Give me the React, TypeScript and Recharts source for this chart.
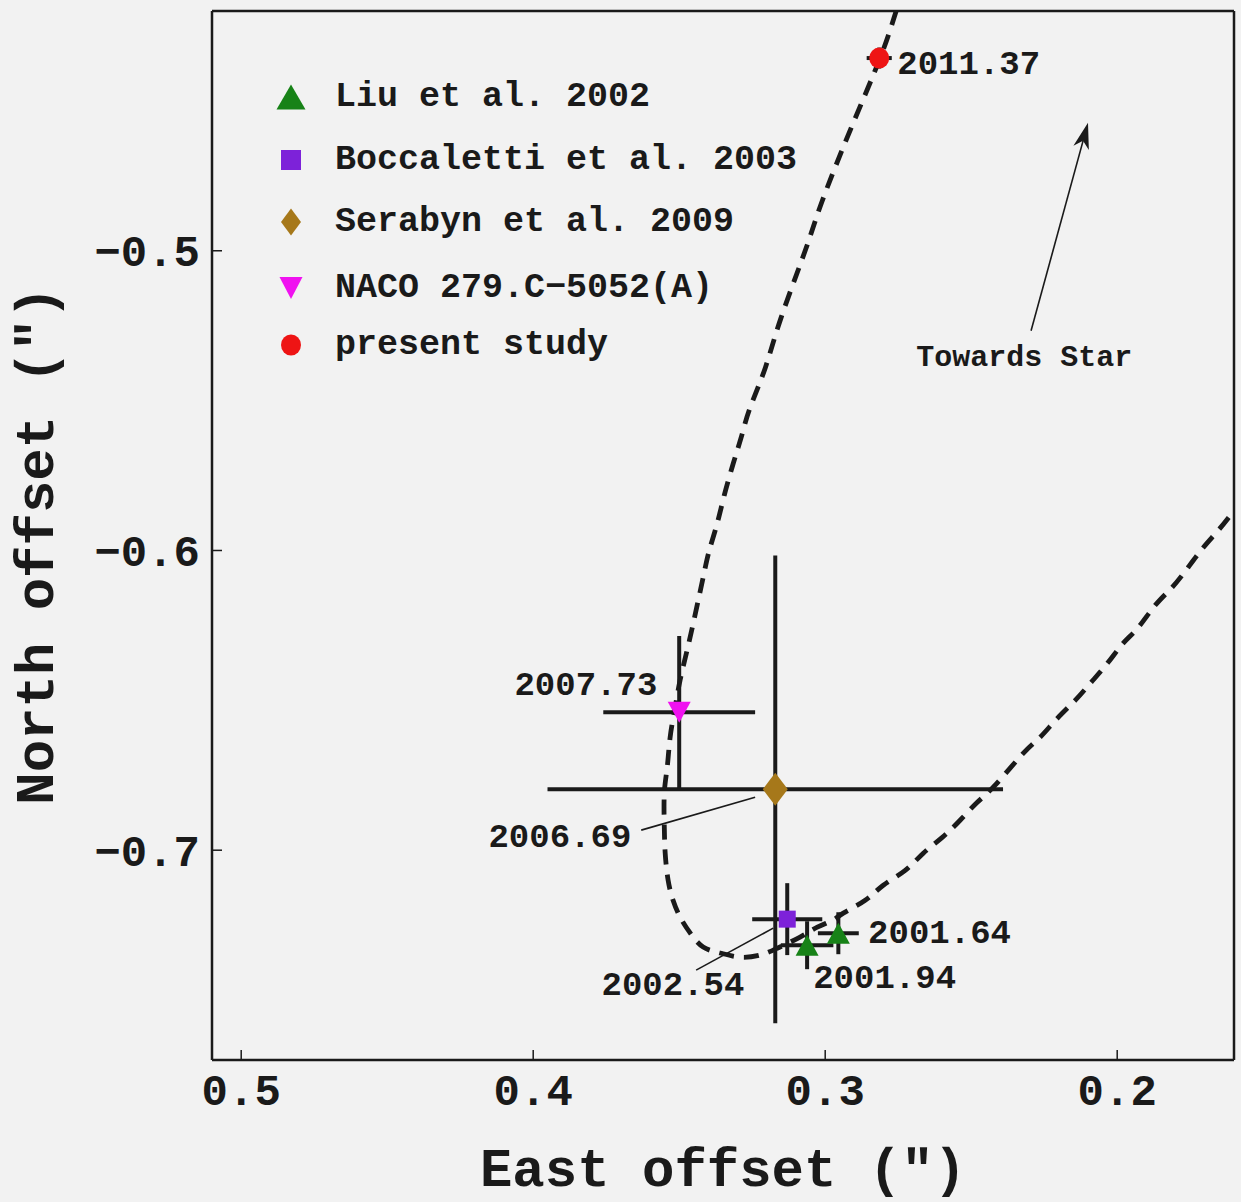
import {
  ScatterChart,
  Scatter,
  XAxis,
  YAxis,
  ErrorBar,
  ReferenceDot,
  ReferenceLine,
  Legend,
} from "recharts";

const FONT = '"Liberation Mono", "DejaVu Sans Mono", monospace';
const INK = "#1a1a1a";

// ticks
const eastTicks = [0.2, 0.3, 0.4, 0.5];
const northTicks = [-0.7, -0.6, -0.5];

// fitted orbit (dashed)
const orbitEast = [
  0.2757, 0.2812, 0.2911, 0.301, 0.3065, 0.3151, 0.3205, 0.3257, 0.3284, 0.3315, 0.3346, 0.337,
  0.3397, 0.3418, 0.3452, 0.3473, 0.3497, 0.3514, 0.3531, 0.3541, 0.3551, 0.3551, 0.3548, 0.3538,
  0.3521, 0.3497, 0.3462, 0.3418, 0.336, 0.3291, 0.3223, 0.3164, 0.3086, 0.3027, 0.2973, 0.2938,
  0.2863, 0.2801, 0.2726, 0.2664, 0.2599, 0.2538, 0.2479, 0.2418, 0.2322, 0.2264, 0.2205, 0.2144,
  0.2092, 0.2034, 0.198, 0.1928, 0.187, 0.1812, 0.176, 0.1705, 0.1654, 0.16,
];
const orbitNorth = [
  -0.42, -0.4357, -0.459, -0.4833, -0.499, -0.5223, -0.539, -0.5523, -0.561, -0.571, -0.5817, -0.591,
  -0.6, -0.609, -0.6243, -0.6333, -0.6433, -0.6523, -0.6623, -0.6723, -0.681, -0.6923, -0.701, -0.71,
  -0.7167, -0.7223, -0.7277, -0.7323, -0.7343, -0.7357, -0.735, -0.7327, -0.729, -0.7257, -0.7233, -0.721,
  -0.7167, -0.7117, -0.7067, -0.701, -0.6957, -0.69, -0.684, -0.6783, -0.6677, -0.6623, -0.656, -0.65,
  -0.6443, -0.6377, -0.631, -0.6257, -0.6183, -0.6123, -0.606, -0.599, -0.5933, -0.5867,
];

// observations
const liuEast = [0.2955, 0.3062];
const liuNorth = [-0.7277, -0.7317];
const liuErrEast = [0.007, 0.009];
const liuErrNorth = [0.007, 0.008];

const boccEast = [0.313];
const boccNorth = [-0.723];
const boccErrEast = [0.012];
const boccErrNorth = [0.012];

const serabynEast = [0.3171];
const serabynNorth = [-0.6797];
const serabynErrEast = [0.078];
const serabynErrNorth = [0.078];

const nacoEast = [0.35];
const nacoNorth = [-0.654];
const nacoErrEast = [0.026];
const nacoErrNorth = [0.0255];

const presentEast = [0.2815];
const presentNorth = [-0.4357];
const presentErrEast = [0.0043];
const presentErrNorth = [0.0035];

// epoch labels
const epochText = ["2011.37", "2007.73", "2006.69", "2002.54", "2001.64", "2001.94", "Towards Star"];
const epochEast = [0.2753, 0.3575, 0.3664, 0.3277, 0.2853, 0.3041, 0.2318];
const epochNorth = [-0.438, -0.6453, -0.696, -0.7453, -0.728, -0.743, -0.5357];
const epochAnchor = ["start", "end", "end", "end", "start", "start", "middle"];
const epochSize = [34, 34, 34, 34, 34, 34, 30];

// leader lines [eastFrom, northFrom, eastTo, northTo]
const leaders = [
  [0.363, -0.6933, 0.324, -0.6823],
  [0.3442, -0.74, 0.3178, -0.726],
];
const arrowFrom = [0.2295, -0.5267];
const arrowTo = [0.21, -0.4573];

const legendNames = [
  "Liu et al. 2002",
  "Boccaletti et al. 2003",
  "Serabyn et al. 2009",
  "NACO 279.C\u22125052(A)",
  "present study",
];

const COLORS = {
  liu: "#178217",
  bocc: "#7d22d9",
  serabyn: "#a6781a",
  naco: "#f012f0",
  present: "#ee1414",
};

const pts = (e: number[], n: number[], ee: number[] = [], en: number[] = []) =>
  e.map((x, i) => ({ x, y: n[i], ex: ee[i] ?? 0, ey: en[i] ?? 0 }));

const orbitData = pts(orbitEast, orbitNorth);
const liuData = pts(liuEast, liuNorth, liuErrEast, liuErrNorth);
const boccData = pts(boccEast, boccNorth, boccErrEast, boccErrNorth);
const serabynData = pts(serabynEast, serabynNorth, serabynErrEast, serabynErrNorth);
const nacoData = pts(nacoEast, nacoNorth, nacoErrEast, nacoErrNorth);
const presentData = pts(presentEast, presentNorth, presentErrEast, presentErrNorth);

type Mk = "up" | "down" | "square" | "diamond" | "circle";

const markerEl = (kind: Mk, cx: number, cy: number, w: number, h: number, fill: string) => {
  switch (kind) {
    case "up":
      return <polygon points={`${cx},${cy - h / 2} ${cx - w / 2},${cy + h / 2} ${cx + w / 2},${cy + h / 2}`} fill={fill} />;
    case "down":
      return <polygon points={`${cx},${cy + h / 2} ${cx - w / 2},${cy - h / 2} ${cx + w / 2},${cy - h / 2}`} fill={fill} />;
    case "square":
      return <rect x={cx - w / 2} y={cy - h / 2} width={w} height={h} fill={fill} />;
    case "diamond":
      return <polygon points={`${cx},${cy - h / 2} ${cx + w / 2},${cy} ${cx},${cy + h / 2} ${cx - w / 2},${cy}`} fill={fill} />;
    default:
      return <ellipse cx={cx} cy={cy} rx={w / 2} ry={h / 2} fill={fill} />;
  }
};

const shapeOf = (kind: Mk, w: number, h: number, fill: string) => (p: any) =>
  markerEl(kind, p.cx, p.cy, w, h, fill);

const legendItems: { kind: Mk; color: string; w: number; h: number }[] = [
  { kind: "up", color: COLORS.liu, w: 29, h: 25 },
  { kind: "square", color: COLORS.bocc, w: 20, h: 20 },
  { kind: "diamond", color: COLORS.serabyn, w: 20, h: 27 },
  { kind: "down", color: COLORS.naco, w: 23, h: 22 },
  { kind: "circle", color: COLORS.present, w: 20, h: 21 },
];
// vertical centre of each legend row, measured from the legend box top
const legendRowY = [31, 94, 156, 222, 279];

const LegendBox = () => (
  <div style={{ position: "relative", width: 700, height: 320, fontFamily: FONT, fontWeight: 700, fontSize: 35, color: INK }}>
    {legendNames.map((name, i) => (
      <div
        key={name}
        style={{ position: "absolute", left: 0, top: legendRowY[i] - 20, height: 40, display: "flex", alignItems: "center" }}
      >
        <svg width={30} height={30} style={{ flex: "none" }}>
          {markerEl(legendItems[i].kind, 15, 15, legendItems[i].w, legendItems[i].h, legendItems[i].color)}
        </svg>
        <span style={{ marginLeft: 29, whiteSpace: "pre", lineHeight: 1 }}>{name}</span>
      </div>
    ))}
  </div>
);

const fmtNum = (v: number) => (v < 0 ? "\u2212" + Math.abs(v).toFixed(1) : v.toFixed(1));

const tickStyle = { fontSize: 44, fontFamily: FONT, fontWeight: 700, fill: INK };

const xLabel = (p: any) => {
  const vb = p.viewBox;
  return (
    <text x={vb.x + vb.width / 2} y={vb.y + vb.height - 16} textAnchor="middle" fontFamily={FONT} fontWeight={700} fontSize={54} fill={INK}>
      East offset (")
    </text>
  );
};

const yLabel = (p: any) => {
  const vb = p.viewBox;
  const x = vb.x + 53;
  const y = vb.y + vb.height / 2 + 10;
  return (
    <text x={x} y={y} transform={`rotate(-90 ${x} ${y})`} textAnchor="middle" fontFamily={FONT} fontWeight={700} fontSize={54} fill={INK}>
      North offset (")
    </text>
  );
};

const textShape = (text: string, anchor: string, size: number) => (p: any) => (
  <text x={p.cx} y={p.cy} textAnchor={anchor} dominantBaseline="central" fontFamily={FONT} fontWeight={700} fontSize={size} fill={INK}>
    {text}
  </text>
);

const arrowShape = (p: any) => {
  const { x1, y1, x2, y2 } = p;
  const dx = x2 - x1;
  const dy = y2 - y1;
  const len = Math.hypot(dx, dy);
  const ux = dx / len;
  const uy = dy / len;
  const L = 26;
  const W = 8;
  const bx = x2 - ux * L;
  const by = y2 - uy * L;
  const nx = x2 - ux * L * 0.72;
  const ny = y2 - uy * L * 0.72;
  return (
    <g>
      <line x1={x1} y1={y1} x2={nx} y2={ny} stroke={INK} strokeWidth={1.6} />
      <polygon
        points={`${x2},${y2} ${bx - uy * W},${by + ux * W} ${nx},${ny} ${bx + uy * W},${by - ux * W}`}
        fill={INK}
      />
    </g>
  );
};

const barProps = { stroke: INK, strokeWidth: 4, width: 0 };

export default function App() {
  return (
    <div style={{ position: "absolute", left: 0, top: 0, width: 1241, height: 1202, background: "#f2f2f2" }}>
      <ScatterChart width={1241} height={1202} margin={{ top: 10, right: 6, bottom: 0, left: 0 }}>
        <XAxis
          type="number"
          dataKey="x"
          domain={[0.16, 0.51]}
          reversed
          allowDataOverflow
          ticks={eastTicks}
          interval={0}
          height={142}
          tickSize={-10}
          tickMargin={24}
          tickFormatter={fmtNum}
          tick={tickStyle}
          axisLine={{ stroke: INK, strokeWidth: 2.5 }}
          tickLine={{ stroke: INK, strokeWidth: 1.5 }}
          label={xLabel}
        />
        <XAxis
          xAxisId="top"
          orientation="top"
          type="number"
          domain={[0.16, 0.51]}
          reversed
          allowDataOverflow
          ticks={eastTicks}
          interval={0}
          height={1}
          tickSize={-10}
          tick={false}
          axisLine={{ stroke: INK, strokeWidth: 2.5 }}
          tickLine={{ stroke: INK, strokeWidth: 1.5 }}
        />
        <YAxis
          type="number"
          dataKey="y"
          domain={[-0.77, -0.42]}
          allowDataOverflow
          ticks={northTicks}
          interval={0}
          width={212}
          tickSize={-10}
          tickMargin={22}
          tickFormatter={fmtNum}
          tick={tickStyle}
          axisLine={{ stroke: INK, strokeWidth: 2.5 }}
          tickLine={{ stroke: INK, strokeWidth: 1.5 }}
          label={yLabel}
        />
        <YAxis
          yAxisId="right"
          orientation="right"
          type="number"
          domain={[-0.77, -0.42]}
          allowDataOverflow
          ticks={northTicks}
          interval={0}
          width={1}
          tickSize={-10}
          tick={false}
          axisLine={{ stroke: INK, strokeWidth: 2.5 }}
          tickLine={{ stroke: INK, strokeWidth: 1.5 }}
        />

        <Legend
          layout="vertical"
          align="center"
          verticalAlign="middle"
          content={() => <LegendBox />}
          wrapperStyle={{ left: 276, top: 66, width: 700, height: 320 }}
        />

        <Scatter
          name="orbit"
          data={orbitData}
          legendType="none"
          line={{ stroke: INK, strokeWidth: 4.8, strokeDasharray: "15 10" }}
          lineType="joint"
          lineJointType="natural"
          shape={() => <g />}
          isAnimationActive={false}
        />

        {leaders.map((l, i) => (
          <ReferenceLine
            key={"leader" + i}
            segment={[
              { x: l[0], y: l[1] },
              { x: l[2], y: l[3] },
            ]}
            stroke={INK}
            strokeWidth={1.6}
          />
        ))}
        <ReferenceLine
          segment={[
            { x: arrowFrom[0], y: arrowFrom[1] },
            { x: arrowTo[0], y: arrowTo[1] },
          ]}
          shape={arrowShape}
        />

        <Scatter name="Serabyn et al. 2009" data={serabynData} shape={shapeOf("diamond", 25, 33, COLORS.serabyn)} isAnimationActive={false}>
          <ErrorBar dataKey="ex" direction="x" {...barProps} />
          <ErrorBar dataKey="ey" direction="y" {...barProps} />
        </Scatter>
        <Scatter name="NACO" data={nacoData} shape={shapeOf("down", 23, 21, COLORS.naco)} isAnimationActive={false}>
          <ErrorBar dataKey="ex" direction="x" {...barProps} />
          <ErrorBar dataKey="ey" direction="y" {...barProps} />
        </Scatter>
        <Scatter name="Boccaletti et al. 2003" data={boccData} shape={shapeOf("square", 17, 17, COLORS.bocc)} isAnimationActive={false}>
          <ErrorBar dataKey="ex" direction="x" {...barProps} />
          <ErrorBar dataKey="ey" direction="y" {...barProps} />
        </Scatter>
        <Scatter name="Liu et al. 2002" data={liuData} shape={shapeOf("up", 23, 21, COLORS.liu)} isAnimationActive={false}>
          <ErrorBar dataKey="ex" direction="x" {...barProps} />
          <ErrorBar dataKey="ey" direction="y" {...barProps} />
        </Scatter>
        <Scatter name="present study" data={presentData} shape={shapeOf("circle", 20, 21, COLORS.present)} isAnimationActive={false}>
          <ErrorBar dataKey="ex" direction="x" {...barProps} />
          <ErrorBar dataKey="ey" direction="y" {...barProps} />
        </Scatter>

        {epochText.map((t, i) => (
          <ReferenceDot
            key={t}
            x={epochEast[i]}
            y={epochNorth[i]}
            r={0}
            shape={textShape(t, epochAnchor[i], epochSize[i])}
          />
        ))}
      </ScatterChart>
    </div>
  );
}
